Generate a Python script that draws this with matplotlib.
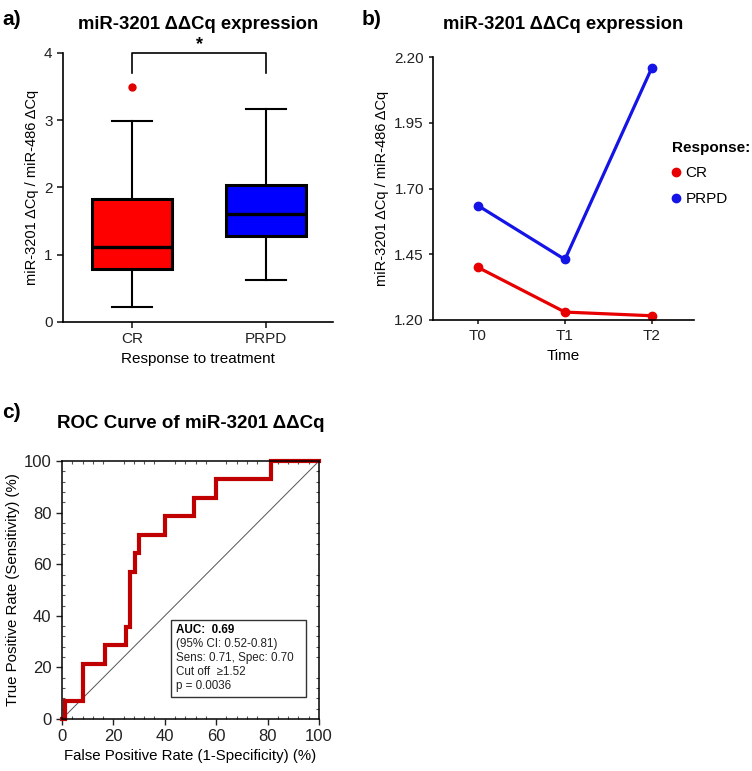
import matplotlib
matplotlib.use("Agg")
import matplotlib.pyplot as plt
from matplotlib.ticker import MultipleLocator
import numpy as np

plt.rcParams['font.family'] = ['Liberation Sans', 'DejaVu Sans']

# ---- Panel a data (box stats) ----
groups = ["CR", "PRPD"]
box_q1 = [0.79, 1.28]
box_med = [1.12, 1.60]
box_q3 = [1.83, 2.04]
whisk_lo = [0.22, 0.62]
whisk_hi = [2.99, 3.16]
outliers = [[3.50], []]
box_colors = ["#FF0000", "#0000FF"]

# ---- Panel b data ----
times = ["T0", "T1", "T2"]
cr_vals = [1.40, 1.23, 1.216]
prpd_vals = [1.635, 1.43, 2.16]

# ---- Panel c data (ROC) ----
roc_fpr = [0, 1.3, 1.3, 8.3, 8.3, 16.7, 16.7, 25.0, 25.0, 26.3, 26.3, 28.3, 28.3,
           29.8, 29.8, 40.0, 40.0, 51.4, 51.4, 60.0, 60.0, 81.3, 81.3, 100]
roc_tpr = [0, 0, 7.1, 7.1, 21.4, 21.4, 28.6, 28.6, 35.7, 35.7, 57.1, 57.1, 64.3,
           64.3, 71.4, 71.4, 78.6, 78.6, 85.7, 85.7, 92.9, 92.9, 100, 100]
roc_text = ["(95% CI: 0.52-0.81)", "Sens: 0.71, Spec: 0.70", "Cut off  \u22651.52", "p = 0.0036"]

fig = plt.figure(figsize=(7.52, 7.71), dpi=100)

# ================= Panel a =================
axa = fig.add_axes([0.0838, 0.5824, 0.359, 0.349])
stats = []
for i, g in enumerate(groups):
    stats.append(dict(label=g, q1=box_q1[i], med=box_med[i], q3=box_q3[i],
                      whislo=whisk_lo[i], whishi=whisk_hi[i], fliers=outliers[i]))
bp = axa.bxp(stats, positions=[1, 2], widths=0.6, patch_artist=True,
             boxprops=dict(linewidth=2.2, edgecolor='black'),
             medianprops=dict(color='black', linewidth=2.4),
             whiskerprops=dict(color='black', linewidth=1.5),
             capprops=dict(color='black', linewidth=1.5),
             flierprops=dict(marker='o', markerfacecolor='#E00000', markeredgecolor='#E00000', markersize=5))
for patch, c in zip(bp['boxes'], box_colors):
    patch.set_facecolor(c)
for cap in bp['caps']:
    xd = cap.get_xdata()
    m = np.mean(xd)
    cap.set_xdata([m - 0.15, m + 0.15])
axa.set_xlim(0.485, 2.5)
axa.set_ylim(0, 4)
axa.set_yticks([0, 1, 2, 3, 4])
axa.spines['top'].set_visible(False)
axa.spines['right'].set_visible(False)
for s in ['left', 'bottom']:
    axa.spines[s].set_linewidth(1.2)
axa.tick_params(labelsize=11, width=1.2, length=4, colors='#222222')
axa.set_xticks([1, 2])
axa.set_xticklabels(groups)
axa.set_ylabel("miR-3201 \u0394Cq / miR-486 \u0394Cq", fontsize=10.5, labelpad=4)
axa.set_xlabel("Response to treatment", fontsize=11)
# significance bracket
axa.plot([1, 1, 2, 2], [3.7, 4.0, 4.0, 3.7], color='black', lw=1.2, clip_on=False)
axa.text(1.5, 4.0, "*", ha='center', va='bottom', fontsize=13, fontweight='bold')
axa.set_title("miR-3201 \u0394\u0394Cq expression", fontsize=13.3, fontweight='bold', pad=17)
fig.text(0.003, 0.975, "a)", fontsize=15, fontweight='bold', va='center')

# ================= Panel b =================
axb = fig.add_axes([0.5758, 0.585, 0.347, 0.341])
xb = np.arange(len(times))
axb.plot(xb, cr_vals, color='#E80000', lw=2.3, marker='o', markersize=6, label='CR')
axb.plot(xb, prpd_vals, color='#1414E6', lw=2.3, marker='o', markersize=6, label='PRPD')
axb.set_xlim(-0.517, 2.483)
axb.set_ylim(1.20, 2.20)
axb.set_yticks([1.20, 1.45, 1.70, 1.95, 2.20])
axb.set_yticklabels(["1.20", "1.45", "1.70", "1.95", "2.20"])
axb.set_xticks(xb)
axb.set_xticklabels(times)
axb.spines['top'].set_visible(False)
axb.spines['right'].set_visible(False)
for s in ['left', 'bottom']:
    axb.spines[s].set_linewidth(1.2)
axb.tick_params(labelsize=11, width=1.2, length=3, colors='#222222')
axb.set_ylabel("miR-3201 \u0394Cq / miR-486 \u0394Cq", fontsize=10.5, labelpad=4)
axb.set_xlabel("Time", fontsize=11)
axb.set_title("miR-3201 \u0394\u0394Cq expression", fontsize=13.3, fontweight='bold', pad=20)
leg = fig.legend(handles=axb.get_lines(), labels=['CR', 'PRPD'], loc='upper left',
                 bbox_to_anchor=(0.885, 0.825), frameon=False, fontsize=11,
                 title="Response:", title_fontproperties={'weight': 'bold', 'size': 11},
                 handlelength=0.6, handletextpad=0.3, labelspacing=0.75, borderaxespad=0)
for h in leg.legend_handles:
    h.set_linestyle('None')
leg._legend_box.align = 'left'
fig.text(0.481, 0.975, "b)", fontsize=15, fontweight='bold', va='center', ha='left')

# ================= Panel c =================
axc = fig.add_axes([0.0824, 0.0674, 0.3418, 0.3346])
axc.plot([0, 100], [0, 100], color='#555555', lw=0.7)
axc.plot(roc_fpr, roc_tpr, color='#C00000', lw=3, solid_joinstyle='miter', clip_on=False)
axc.set_xlim(0, 100)
axc.set_ylim(0, 100)
axc.xaxis.set_major_locator(MultipleLocator(20))
axc.yaxis.set_major_locator(MultipleLocator(20))
axc.xaxis.set_minor_locator(MultipleLocator(4))
axc.yaxis.set_minor_locator(MultipleLocator(4))
axc.tick_params(which='major', direction='out', length=4, width=1, labelsize=12, colors='#222222')
axc.tick_params(which='minor', direction='in', length=2.5, width=0.8, top=True, right=True, colors='#555555')
axc.tick_params(which='major', top=False, right=False)
for s in axc.spines.values():
    s.set_linewidth(1.1)
axc.set_xlabel("False Positive Rate (1-Specificity) (%)", fontsize=10.8, labelpad=3)
axc.set_ylabel("True Positive Rate (Sensitivity) (%)", fontsize=10.8, labelpad=3)
axc.set_title("ROC Curve of miR-3201 \u0394\u0394Cq", fontsize=13.5, fontweight='bold', pad=24)
rect = plt.Rectangle((42.3, 8.7), 52.7, 29.7, fill=False, edgecolor='#333333', lw=1, transform=axc.transData)
axc.add_patch(rect)
axc.text(44.5, 34.5, "AUC:  0.69", fontsize=8.4, fontweight='bold', va='center')
for k, t in enumerate(roc_text):
    axc.text(44.5, 34.5 - (k + 1) * 5.4, t, fontsize=8.4, va='center', color='#222222')
fig.text(0.003, 0.465, "c)", fontsize=15, fontweight='bold', va='center')

fig.savefig("out.png", dpi=100)
